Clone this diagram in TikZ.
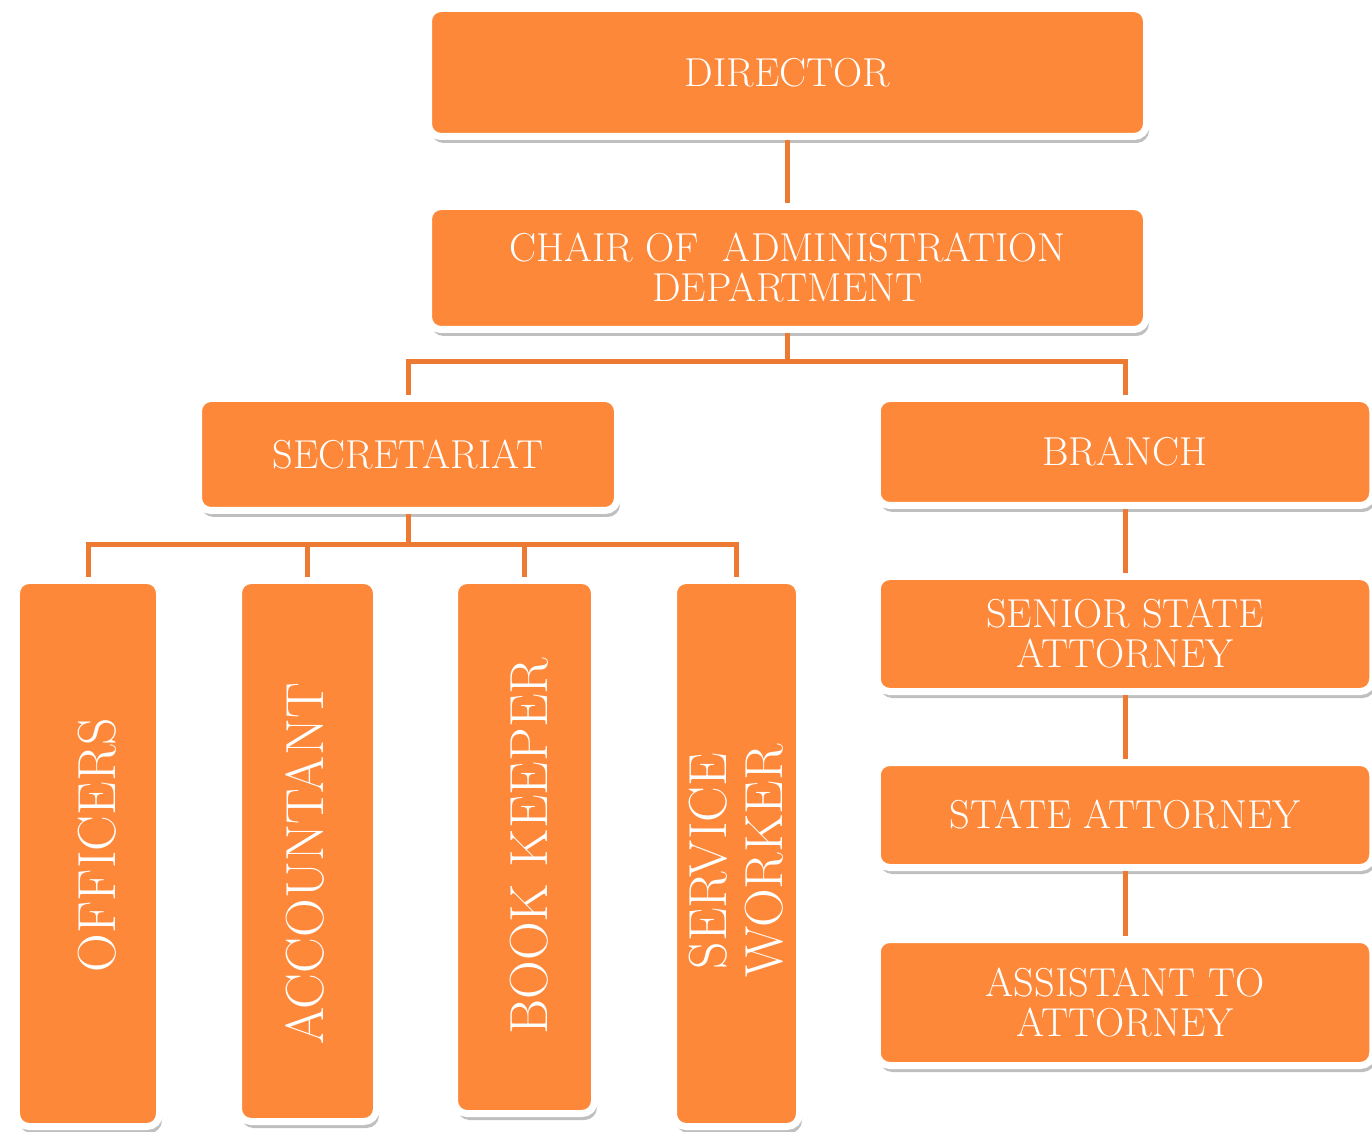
\documentclass[tikz,border=0pt]{standalone}
\usepackage{tikz}
\usetikzlibrary{positioning,shadows}
\definecolor{boxorange}{HTML}{FD8839}
\definecolor{lineorange}{HTML}{EC7A33}
\tikzset{%
	box/.style      = {draw=white, line width=0.14cm, fill=boxorange, rounded corners=0.25cm, text=white, align=center,
	                   font=\fontsize{23}{22.8}\selectfont,
	                   drop shadow={shadow xshift=0.05cm, shadow yshift=-0.13cm, fill=black!50, opacity=0.5}}, % Box
	vtext/.style    = {rotate=90, text=white, align=center, font=\fontsize{30.5}{32}\selectfont}, % Upright label
	link/.style     = {draw=lineorange, line width=0.1cm}, % Connector
	waypoint/.style = {coordinate}, % Bus point
}
\begin{document}
\begin{tikzpicture}
	\useasboundingbox (0,0) rectangle (27.44,-22.64);
	% top
	\node[box, minimum width=14.36cm, minimum height=2.56cm] (director) at (15.75,-1.45) {DIRECTOR};
	\node[box, minimum width=14.36cm, minimum height=2.46cm, below of=director, node distance=3.91cm] (chair) {CHAIR OF\ \ ADMINISTRATION\\DEPARTMENT};
	\node[waypoint, below of=chair, node distance=1.88cm] (cbus) {};
	% left side
	\node[box, minimum width=8.38cm, minimum height=2.24cm] (secretariat) at (8.16,-9.09) {SECRETARIAT};
	\node[waypoint, below of=secretariat, node distance=1.81cm] (sbus) {};
	\node[box, minimum width=2.86cm, minimum height=10.92cm] (officers) at (1.76,-17.07) {};
	\node[box, minimum width=2.76cm, minimum height=10.82cm] (accountant) at (6.15,-17.02) {};
	\node[box, minimum width=2.80cm, minimum height=10.66cm] (bookkeeper) at (10.49,-16.94) {};
	\node[box, minimum width=2.52cm, minimum height=10.92cm] (service) at (14.73,-17.07) {};
	\node[vtext] (officerstext) at (1.94,-16.90) {OFFICERS};
	\node[vtext] (accountanttext) at (6.10,-17.28) {ACCOUNTANT};
	\node[vtext] (bookkeepertext) at (10.58,-16.92) {BOOK KEEPER};
	\node[vtext] (servicetext) at (14.72,-17.22) {SERVICE\\WORKER};
	% right side
	\node[box, minimum width=9.91cm, minimum height=2.14cm] (branch) at (22.5,-9.04) {BRANCH};
	\node[box, minimum width=9.91cm, minimum height=2.30cm, below of=branch, node distance=3.64cm] (senior) {SENIOR STATE\\ATTORNEY};
	\node[box, minimum width=9.91cm, minimum height=2.10cm, below of=senior, node distance=3.62cm] (state) {STATE ATTORNEY};
	\node[box, minimum width=9.91cm, minimum height=2.52cm, below of=state, node distance=3.75cm] (assistant) {ASSISTANT TO\\ATTORNEY};
	% connectors
	\draw[link] (director.south) -- (chair.north);
	\draw[link] (chair.south) -- (cbus);
	\draw[link] (secretariat.north) |- (cbus) -| (branch.north);
	\draw[link] (secretariat.south) -- (sbus);
	\draw[link] (officers.north) |- (sbus) -| (service.north);
	\foreach \n in {accountant,bookkeeper}
		\draw[link] (\n.north) -- (\n.north |- sbus);
	\foreach \a/\b in {branch/senior,senior/state,state/assistant}
		\draw[link] (\a.south) -- (\b.north);
\end{tikzpicture}
\end{document}
